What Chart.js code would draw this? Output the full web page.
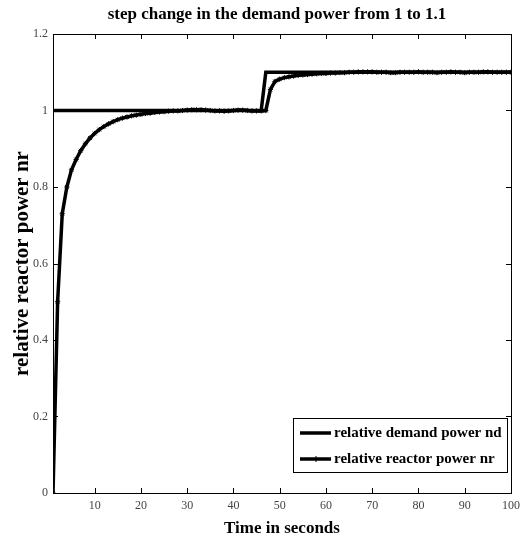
<!DOCTYPE html>
<html>
<head>
<meta charset="utf-8">
<script src="https://cdn.jsdelivr.net/npm/chart.js@4"></script>
<style>
  body { margin: 0; background: #fff; }
  canvas { display: block; }
</style>
</head>
<body>
<canvas id="grafico" width="528" height="540"></canvas>
<script>
// --- dados ---
const chartTitle = "step change in the demand power from 1 to 1.1";
const xTitle = "Time in seconds";
const yTitle = "relative reactor power nr";

const tempo = [
  1, 2, 3, 4, 5, 6, 7, 8, 9, 10,
  11, 12, 13, 14, 15, 16, 17, 18, 19, 20,
  21, 22, 23, 24, 25, 26, 27, 28, 29, 30,
  31, 32, 33, 34, 35, 36, 37, 38, 39, 40,
  41, 42, 43, 44, 45, 46, 47, 48, 49, 50,
  51, 52, 53, 54, 55, 56, 57, 58, 59, 60,
  61, 62, 63, 64, 65, 66, 67, 68, 69, 70,
  71, 72, 73, 74, 75, 76, 77, 78, 79, 80,
  81, 82, 83, 84, 85, 86, 87, 88, 89, 90,
  91, 92, 93, 94, 95, 96, 97, 98, 99, 100
];

const demanda = [
  1, 1, 1, 1, 1, 1, 1, 1, 1, 1,
  1, 1, 1, 1, 1, 1, 1, 1, 1, 1,
  1, 1, 1, 1, 1, 1, 1, 1, 1, 1,
  1, 1, 1, 1, 1, 1, 1, 1, 1, 1,
  1, 1, 1, 1, 1, 1, 1.1, 1.1, 1.1, 1.1,
  1.1, 1.1, 1.1, 1.1, 1.1, 1.1, 1.1, 1.1, 1.1, 1.1,
  1.1, 1.1, 1.1, 1.1, 1.1, 1.1, 1.1, 1.1, 1.1, 1.1,
  1.1, 1.1, 1.1, 1.1, 1.1, 1.1, 1.1, 1.1, 1.1, 1.1,
  1.1, 1.1, 1.1, 1.1, 1.1, 1.1, 1.1, 1.1, 1.1, 1.1,
  1.1, 1.1, 1.1, 1.1, 1.1, 1.1, 1.1, 1.1, 1.1, 1.1
];

const reator = [
  0, 0.5, 0.73, 0.80, 0.845, 0.872, 0.895, 0.913, 0.928, 0.94,
  0.95, 0.958, 0.965, 0.971, 0.976, 0.98, 0.983, 0.986, 0.988, 0.99,
  0.992, 0.993, 0.995, 0.996, 0.997, 0.998, 0.999, 0.999, 1.0, 1.001,
  1.002, 1.002, 1.002, 1.001, 1.0, 0.999, 0.999, 0.998, 0.999, 1.0,
  1.001, 1.001, 1.0, 0.999, 0.999, 0.999, 1.0, 1.055, 1.076, 1.082,
  1.086, 1.088, 1.09, 1.092, 1.093, 1.094, 1.095, 1.096, 1.097, 1.097,
  1.098, 1.098, 1.099, 1.099, 1.1, 1.1, 1.101, 1.101, 1.101, 1.101,
  1.1, 1.1, 1.1, 1.099, 1.099, 1.1, 1.1, 1.1, 1.1, 1.101,
  1.1, 1.1, 1.1, 1.099, 1.1, 1.1, 1.101, 1.1, 1.1, 1.099,
  1.1, 1.1, 1.1, 1.101, 1.101, 1.1, 1.1, 1.1, 1.1, 1.1
];

const xTicks = [10, 20, 30, 40, 50, 60, 70, 80, 90, 100];
const yTicks = [0, 0.2, 0.4, 0.6, 0.8, 1, 1.2];
const yTickLabels = ["0", "0.2", "0.4", "0.6", "0.8", "1", "1.2"];

const fonte = "'Liberation Serif', 'DejaVu Serif', serif";

// --- moldura, ticks para dentro, titulo e legenda (estilo matlab) ---
const estiloMatlab = {
  id: "estiloMatlab",
  afterDatasetsDraw(chart) {
    const { ctx, chartArea: a, scales } = chart;
    ctx.save();
    ctx.strokeStyle = "#000";
    ctx.lineWidth = 1;
    ctx.strokeRect(a.left + 0.5, a.top + 0.5, a.right - a.left, a.bottom - a.top);

    ctx.beginPath();
    xTicks.forEach((v) => {
      const x = Math.round(scales.x.getPixelForValue(v)) + 0.5;
      ctx.moveTo(x, a.bottom);
      ctx.lineTo(x, a.bottom - 5);
      ctx.moveTo(x, a.top);
      ctx.lineTo(x, a.top + 5);
    });
    yTicks.forEach((v) => {
      const y = Math.round(scales.y.getPixelForValue(v)) + 0.5;
      ctx.moveTo(a.left, y);
      ctx.lineTo(a.left + 5, y);
      ctx.moveTo(a.right, y);
      ctx.lineTo(a.right - 5, y);
    });
    ctx.stroke();

    // titulo
    ctx.fillStyle = "#000";
    ctx.font = "bold 17px " + fonte;
    ctx.textAlign = "center";
    ctx.textBaseline = "middle";
    ctx.fillText(chartTitle, (a.left + a.right) / 2 - 5, 15);

    // legenda dentro do grafico
    const bx = 293, by = 418, bw = a.right - 4 - bx, bh = 54;
    ctx.fillStyle = "#fff";
    ctx.fillRect(bx, by, bw, bh);
    ctx.strokeRect(bx + 0.5, by + 0.5, bw, bh);
    ctx.font = "bold 15px " + fonte;
    ctx.textAlign = "left";
    chart.data.datasets.forEach((ds, i) => {
      const y = by + 15 + i * 26;
      ctx.beginPath();
      ctx.lineWidth = ds.borderWidth;
      ctx.moveTo(bx + 7, y);
      ctx.lineTo(bx + 38, y);
      ctx.stroke();
      if (ds.pointRadius > 0) {
        ctx.lineWidth = 1;
        ctx.beginPath();
        ctx.moveTo(bx + 23, y - 3);
        ctx.lineTo(bx + 23, y + 3);
        ctx.stroke();
      }
      ctx.fillStyle = "#000";
      ctx.fillText(ds.label, bx + 41, y);
    });
    ctx.restore();
  },
};

const ctx = document.getElementById("grafico").getContext("2d");

new Chart(ctx, {
  type: "line",
  data: {
    datasets: [
      {
        label: "relative demand power nd",
        data: tempo.map((t, i) => ({ x: t, y: demanda[i] })),
        borderColor: "#000",
        borderWidth: 3.5,
        pointRadius: 0,
        tension: 0,
      },
      {
        label: "relative reactor power nr",
        data: tempo.map((t, i) => ({ x: t, y: reator[i] })),
        borderColor: "#000",
        backgroundColor: "#000",
        borderWidth: 3.5,
        pointRadius: 2.6,
        pointBorderWidth: 1,
        pointStyle: "star",
        tension: 0,
      },
    ],
  },
  options: {
    responsive: false,
    animation: false,
    layout: { padding: { top: 34, right: 17, left: 0, bottom: 0 } },
    plugins: {
      legend: { display: false },
      title: { display: false },
      tooltip: { enabled: false },
    },
    scales: {
      x: {
        type: "linear",
        min: 1,
        max: 100,
        afterBuildTicks: (axis) => {
          axis.ticks = xTicks.map((v) => ({ value: v }));
        },
        afterFit: (scale) => {
          scale.height = 47;
        },
        grid: { display: false, drawTicks: false },
        border: { display: false },
        ticks: {
          color: "#444",
          font: { family: fonte, size: 12 },
          padding: 6,
          maxRotation: 0,
        },
        title: {
          display: true,
          text: xTitle,
          color: "#000",
          font: { family: fonte, size: 17, weight: "bold" },
          padding: { top: 0, bottom: 1 },
        },
      },
      y: {
        min: 0,
        max: 1.2,
        afterBuildTicks: (axis) => {
          axis.ticks = yTicks.map((v) => ({ value: v }));
        },
        afterFit: (scale) => {
          scale.width = 53;
        },
        grid: { display: false, drawTicks: false },
        border: { display: false },
        ticks: {
          color: "#444",
          font: { family: fonte, size: 12 },
          padding: 5,
          callback: (v, i) => yTickLabels[i],
        },
        title: {
          display: true,
          text: yTitle,
          color: "#000",
          font: { family: fonte, size: 21, weight: "bold" },
          padding: { top: 10, bottom: 0 },
        },
      },
    },
  },
  plugins: [estiloMatlab],
});
</script>
</body>
</html>
